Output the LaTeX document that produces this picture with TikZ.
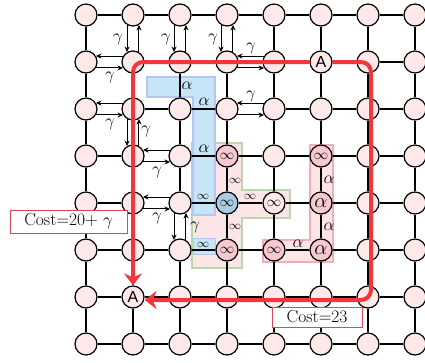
\documentclass[tikz,border=0pt]{standalone}
\usepackage{fontspec}
\newfontfamily\asans{Liberation Sans}
\usetikzlibrary{arrows.meta}
\definecolor{nodefill}{RGB}{253,233,233}
\definecolor{hotfill}{RGB}{246,200,208}
\definecolor{bluenode}{RGB}{170,203,228}
\definecolor{bluefill}{RGB}{198,229,247}
\definecolor{blueline}{RGB}{182,198,240}
\definecolor{greenline}{RGB}{186,216,172}
\definecolor{regionpink}{RGB}{252,229,231}
\definecolor{pinkline}{RGB}{243,172,186}
\definecolor{redpath}{RGB}{240,56,60}
\definecolor{boxred}{RGB}{226,70,84}
\def\defskip#1{\expandafter\def\csname skip#1\endcsname{}}
\defskip{H01}\defskip{H02}\defskip{H31}\defskip{H32}\defskip{H13}\defskip{H14}
\defskip{V10}\defskip{V20}\defskip{V30}\defskip{V12}\defskip{V24}
\newcommand\hpair[3]{%
  \draw[garrow] (n#2#3.149) -- (n#1#3.31);
  \draw[garrow] (n#1#3.-31) -- (n#2#3.-149);}
\newcommand\vpair[3]{%
  \draw[garrow] (n#1#2.-121) -- (n#1#3.121);
  \draw[garrow] (n#1#3.59) -- (n#1#2.-59);}
\begin{document}
\begin{tikzpicture}[x=1pt,y=-1pt,
  vtx/.style={circle,draw=black,line width=1.2pt,fill=nodefill,minimum size=22pt,inner sep=0pt},
  hot/.style={fill=hotfill},
  bluev/.style={fill=bluenode},
  inf/.style={execute at begin node={\fontsize{14}{14}\selectfont$\infty$}},
  alp/.style={execute at begin node={\fontsize{20}{20}\selectfont$\alpha$}},
  anode/.style={execute at begin node={\fontsize{16}{16}\selectfont\asans A}},
  gline/.style={line width=1.2pt},
  garrow/.style={line width=1pt,-{Stealth[length=5.5pt,width=5pt]}},
  glab/.style={font=\fontsize{16}{16}\selectfont,inner sep=0pt},
  alab/.style={font=\fontsize{18}{18}\selectfont,inner sep=0pt},
  ilab/.style={font=\fontsize{12.5}{12.5}\selectfont,inner sep=0pt},
  route/.style={draw=redpath,line width=4pt,rounded corners=10pt,-{Stealth[length=12pt,width=18pt,inset=4pt]}},
  costbox/.style={draw=boxred,line width=1pt,fill=white,inner sep=0pt,font=\fontsize{17.5}{17.5}\selectfont},
  n51/.style={anode}, n16/.style={anode},
  n33/.style={hot,inf}, n34/.style={bluev,inf}, n35/.style={hot,inf}, n44/.style={inf},
  n45/.style={hot,inf}, n53/.style={hot,inf}, n54/.style={hot,alp}, n55/.style={hot,alp}
]
\useasboundingbox (0,0) rectangle (425,362);
% shaded regions
\filldraw[fill=regionpink, draw=greenline, line width=1.5pt] (192,143) -- (242,143) -- (242,190) -- (290,190) -- (290,218) -- (242,218) -- (242,268) -- (192,268) -- cycle;
\filldraw[fill=regionpink, draw=pinkline, line width=1.5pt] (310,145) -- (333,145) -- (333,262) -- (263,262) -- (263,240) -- (310,240) -- cycle;
\filldraw[fill=bluefill, draw=blueline, line width=1.2pt] (147,77) -- (215,77) -- (215,215) -- (193,215) -- (193,97) -- (147,97) -- cycle;
\filldraw[fill=bluefill, draw=blueline, line width=1pt] (193,238) rectangle (215,254);
% vertices
\foreach \i in {0,...,7}{\foreach \j in {0,...,7}{
  \node[vtx, n\i\j/.try] (n\i\j) at ({86+47*\i},{15+47*\j}) {};
}}
% plain edges
\foreach \j in {0,...,7}{\foreach \i in {0,...,6}{
  \pgfmathtruncatemacro\k{\i+1}
  \ifcsname skipH\i\j\endcsname\else\draw[gline] (n\i\j) -- (n\k\j);\fi
}}
\foreach \i in {0,...,7}{\foreach \j in {0,...,6}{
  \pgfmathtruncatemacro\k{\j+1}
  \ifcsname skipV\i\j\endcsname\else\draw[gline] (n\i\j) -- (n\i\k);\fi
}}
% gamma arrow pairs
\vpair{1}{0}{1}\vpair{2}{0}{1}\vpair{3}{0}{1}\vpair{1}{2}{3}\vpair{2}{4}{5}
\hpair{0}{1}{1}\hpair{0}{1}{2}\hpair{3}{4}{1}\hpair{3}{4}{2}\hpair{1}{2}{3}\hpair{1}{2}{4}
\node[glab] (g1) at (118,39) {$\gamma$};
\node[glab] (g2) at (166,39) {$\gamma$};
\node[glab] (g3) at (213,39) {$\gamma$};
\node[glab] (g4) at (110,77) {$\gamma$};
\node[glab] (g5) at (110,124) {$\gamma$};
\node[glab] (g6) at (251,48) {$\gamma$};
\node[glab] (g7) at (251,96) {$\gamma$};
\node[glab] (g8) at (146,131) {$\gamma$};
\node[glab] (g9) at (157,172) {$\gamma$};
\node[glab] (g10) at (157,218) {$\gamma$};
\node[glab] (g11) at (195,227) {$\gamma$};
% alpha / infinity edge labels
\node[alab] (a1) at (187,86) {$\alpha$};
\node[alab] (a2) at (204,102) {$\alpha$};
\node[alab] (a3) at (204,149) {$\alpha$};
\node[alab] (a4) at (329,180) {$\alpha$};
\node[alab] (a5) at (329,227) {$\alpha$};
\node[alab] (a6) at (298,244) {$\alpha$};
\node[ilab] (i1) at (235,181) {$\infty$};
\node[ilab] (i2) at (203,197) {$\infty$};
\node[ilab] (i3) at (250,197) {$\infty$};
\node[ilab] (i4) at (235,227) {$\infty$};
\node[ilab] (i5) at (203,245) {$\infty$};
% red routes
\coordinate (rc1) at (371,62);
\coordinate (rc2) at (371,300);
\draw[route] (n51.west) -| (n16.north);
\draw[route] (n51.east) -- (rc1) -- (rc2) -- (rc2 -| n16.east);
% cost boxes
\node[costbox, minimum width=117pt, minimum height=23pt] (c1) at (68.5,221.5) {Cost=20+ $\gamma$};
\node[costbox, minimum width=90pt, minimum height=20pt] (c2) at (317,317) {Cost=23};
\end{tikzpicture}
\end{document}
